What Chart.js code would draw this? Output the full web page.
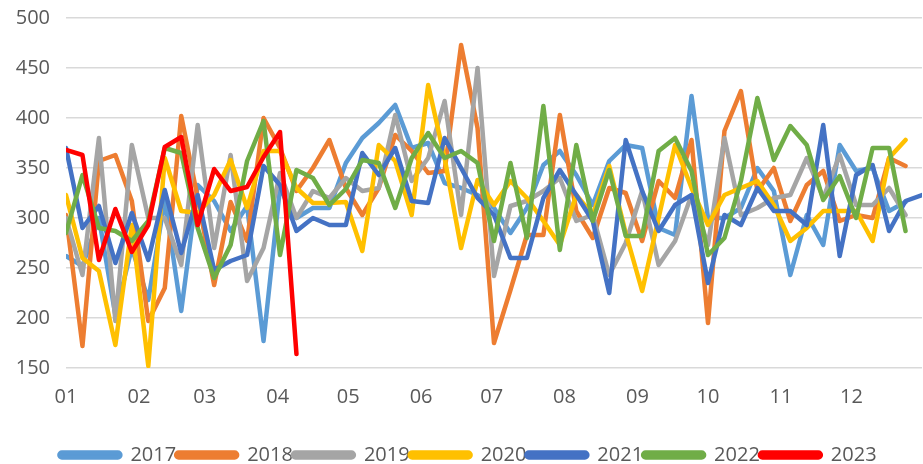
<!DOCTYPE html>
<html lang="en">
  <head>
    <meta charset="UTF-8" />
    <title>Weekly values 2017-2023</title>
    <script src="https://cdn.jsdelivr.net/npm/chart.js@4.4.0/dist/chart.umd.min.js"></script>
    <style>
      html, body { margin: 0; padding: 0; background: #fff; }
      #wrap { width: 923px; height: 464px; }
    </style>
  </head>
  <body>
    <div id="wrap"><canvas id="myChart"></canvas></div>

    <script>
      // x axis: one tick per month, placed on the first day of the month
      const monthLabels = ['01', '02', '03', '04', '05', '06', '07', '08', '09', '10', '11', '12'];
      const monthStartDay = [0, 31, 59, 90, 120, 151, 181, 212, 243, 273, 304, 334];
      const yTicks = [150, 200, 250, 300, 350, 400, 450, 500];
      const weekStep = 7; // one point per week

      const years = ['2017', '2018', '2019', '2020', '2021', '2022', '2023'];
      const colors = ['#5B9BD5', '#ED7D31', '#A5A5A5', '#FFC000', '#4472C4', '#70AD47', '#FF0000'];

      const s2017 = [262, 252, 300, 203, 270, 218, 318, 207, 333, 317,
                     287, 312, 177, 330, 300, 310, 310, 355, 380, 395,
                     413, 370, 375, 335, 330, 323, 310, 285, 310, 353,
                     367, 343, 313, 357, 373, 370, 290, 283, 422, 300,
                     300, 310, 350, 327, 243, 303, 273, 373, 347, 350,
                     307, 316];
      const s2018 = [303, 172, 357, 363, 317, 197, 230, 402, 320, 233,
                     316, 277, 400, 370, 327, 350, 378, 330, 303, 330,
                     383, 367, 345, 347, 473, 390, 175, 228, 283, 283,
                     403, 307, 280, 330, 325, 277, 337, 320, 378, 195,
                     387, 427, 327, 350, 297, 333, 347, 297, 303, 300,
                     360, 352];
      const s2019 = [300, 243, 380, 197, 373, 300, 300, 253, 393, 270,
                     363, 237, 270, 345, 300, 327, 320, 340, 327, 330,
                     403, 337, 360, 417, 303, 450, 242, 312, 317, 327,
                     340, 297, 303, 243, 275, 327, 253, 277, 323, 273,
                     380, 303, 310, 320, 323, 360, 320, 363, 313, 313,
                     330, 303];
      const s2020 = [323, 260, 247, 173, 293, 152, 360, 307, 305, 323,
                     358, 310, 367, 367, 330, 315, 315, 316, 267, 373,
                     357, 303, 433, 360, 270, 338, 313, 337, 320, 297,
                     273, 323, 303, 352, 285, 227, 300, 373, 330, 293,
                     323, 330, 337, 313, 277, 290, 307, 307, 307, 277,
                     360, 378];
      const s2021 = [370, 290, 312, 255, 305, 258, 328, 265, 323, 248,
                     257, 263, 352, 333, 287, 300, 293, 293, 365, 343,
                     370, 317, 315, 380, 350, 320, 303, 260, 260, 320,
                     348, 323, 297, 225, 378, 327, 287, 313, 323, 235,
                     303, 293, 330, 307, 307, 293, 393, 262, 343, 353,
                     287, 317, 323];
      const s2022 = [285, 343, 290, 287, 277, 297, 370, 365, 290, 240,
                     273, 357, 397, 263, 348, 340, 313, 329, 358, 355,
                     310, 360, 385, 360, 367, 355, 277, 355, 280, 412,
                     268, 373, 297, 348, 282, 282, 367, 380, 347, 263,
                     280, 337, 420, 358, 392, 373, 318, 342, 300, 370,
                     370, 287];
      const s2023 = [368, 363, 258, 309, 266, 293, 371, 381, 293, 349,
                     327, 331, 361, 386, 164];

      const seriesValues = [s2017, s2018, s2019, s2020, s2021, s2022, s2023];

      const datasets = years.map((year, k) => ({
        label: year,
        data: seriesValues[k].map((v, i) => ({ x: i * weekStep, y: v })),
        borderColor: colors[k],
        backgroundColor: colors[k],
        borderWidth: 4.5,
        borderJoinStyle: 'round',
        borderCapStyle: 'round',
        pointRadius: 0,
        tension: 0,
        fill: false,
        order: years.length - k   // later years on top, like the original
      }));

      const tickFont = { family: "'Open Sans', sans-serif", size: 20 };

      const ctx = document.getElementById('myChart').getContext('2d');
      const myChart = new Chart(ctx, {
        type: 'line',
        data: { datasets: datasets },
        options: {
          responsive: true,
          maintainAspectRatio: false,
          animation: false,
          devicePixelRatio: 1,
          layout: { autoPadding: false, padding: { left: 14, right: 1, top: 18, bottom: 0 } },
          scales: {
            x: {
              type: 'linear',
              min: 0,
              max: 364,
              grid: { display: false, drawTicks: false },
              border: { display: false },
              afterBuildTicks: (scale) => {
                scale.ticks = monthStartDay.map(d => ({ value: d }));
              },
              afterFit: (scale) => { scale.height = 77; },
              ticks: {
                color: '#595959',
                padding: 17,
                maxRotation: 0,
                autoSkip: false,
                font: tickFont,
                callback: (value, index) => monthLabels[index]
              }
            },
            y: {
              min: yTicks[0],
              max: yTicks[yTicks.length - 1],
              grid: { color: '#d9d9d9', lineWidth: 1.5, drawTicks: false },
              border: { display: false },
              afterBuildTicks: (scale) => {
                scale.ticks = yTicks.map(v => ({ value: v }));
              },
              afterFit: (scale) => {
                scale.width = 52;
                scale.paddingTop = 0;
                scale.paddingBottom = 0;
              },
              ticks: {
                color: '#595959',
                padding: 16,
                font: tickFont
              }
            }
          },
          plugins: {
            tooltip: { enabled: false },
            legend: {
              position: 'bottom',
              maxHeight: 19,
              labels: {
                color: '#595959',
                boxWidth: 61,
                boxHeight: 5,
                useBorderRadius: true,
                borderRadius: 2.5,
                padding: 0,
                font: tickFont,
                sort: (a, b) => a.datasetIndex - b.datasetIndex
              }
            }
          }
        }
      });
    </script>
  </body>
</html>
